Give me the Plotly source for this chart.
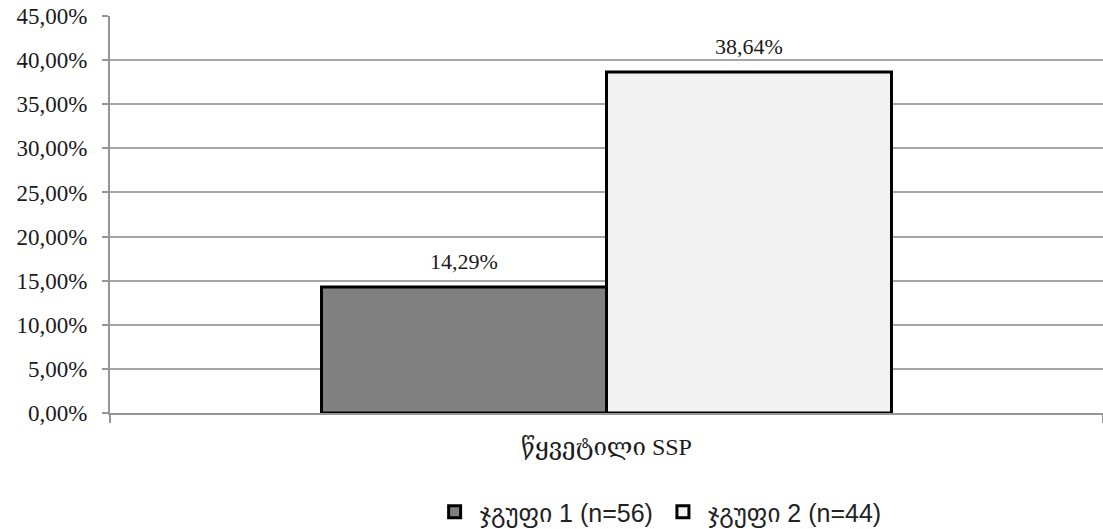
import plotly.graph_objects as go

# Chart data
category = ["წყვეტილი SSP"]
group_names = ["ჯგუფი 1 (n=56)", "ჯგუფი 2 (n=44)"]
group1_values = [0.1429]
group2_values = [0.3864]
tick_values = [0, 0.05, 0.10, 0.15, 0.20, 0.25, 0.30, 0.35, 0.40, 0.45]

fill_colors = ["#808080", "#f2f2f2"]
serif = "Liberation Serif, DejaVu Serif, serif"
sans = "Liberation Sans, DejaVu Sans, sans-serif"

fig = go.Figure()
for name, vals, col in zip(group_names, [group1_values, group2_values], fill_colors):
    fig.add_trace(go.Bar(
        x=category, y=vals, name=name, offsetgroup=name,
        marker=dict(color=col, line=dict(color="black", width=3)),
    ))
    # value labels placed above each bar (transparent marker adds spacing)
    fig.add_trace(go.Scatter(
        x=category, y=vals, offsetgroup=name, mode="markers+text",
        marker=dict(size=18, opacity=0),
        text=[f"{v * 100:.2f}%".replace(".", ",") for v in vals],
        textposition="top center",
        textfont=dict(family=serif, size=22, color="#1a1a1a"),
        showlegend=False, hoverinfo="skip", cliponaxis=False,
    ))

fig.update_layout(
    width=1103, height=529,
    margin=dict(l=110, r=0, t=16, b=116, autoexpand=False),
    paper_bgcolor="white", plot_bgcolor="white",
    barmode="group", scattermode="group", bargap=0.426, bargroupgap=0,
    separators=",.",
    showlegend=True,
    legend=dict(
        orientation="h", x=0.552, xanchor="center",
        yref="container", y=0.032, yanchor="middle",
        font=dict(family=sans, size=25, color="#222"),
        tracegroupgap=0, itemwidth=40,
    ),
    xaxis=dict(
        automargin=False,
        showline=True, linecolor="#969696", linewidth=2,
        ticks="outside", tickson="boundaries", ticklen=8, tickcolor="#969696", tickwidth=2,
        tickfont=dict(family=serif, size=24, color="#1a1a1a"),
        ticklabelstandoff=11,
    ),
    yaxis=dict(
        automargin=False,
        range=[0, 0.45], tickvals=tick_values, tickformat=".2%",
        showgrid=True, gridcolor="#a6a6a6", gridwidth=1.5,
        showline=True, linecolor="#969696", linewidth=2,
        ticks="outside", ticklen=6, tickcolor="#969696", tickwidth=2,
        tickfont=dict(family=serif, size=23, color="#1a1a1a"),
        ticklabelstandoff=10, zeroline=False,
    ),
)

fig.write_html("out.html")
